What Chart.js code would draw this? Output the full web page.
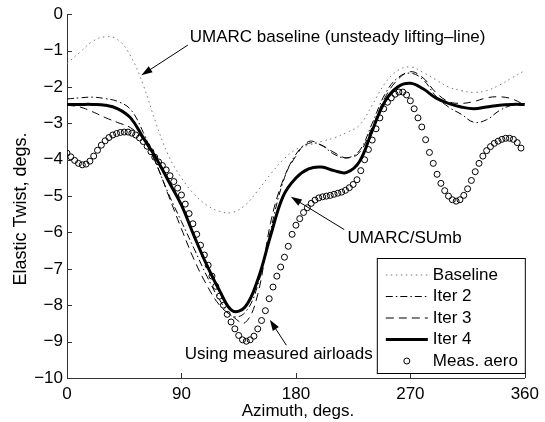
<!DOCTYPE html>
<html>
<head>
<meta charset="utf-8">
<script src="https://cdn.jsdelivr.net/npm/chart.js@4.4.1/dist/chart.umd.min.js"></script>
<style>
  html, body { margin: 0; padding: 0; background: #fff; }
  #wrap { width: 545px; height: 422px; }
</style>
</head>
<body>
<div id="wrap"><canvas id="twist"></canvas></div>
<script>
// azimuth stations of the computed solutions (deg)
const azimuth = [0, 10, 20, 30, 40, 50, 60, 70, 80, 90, 100, 110, 120, 130, 140, 150, 160, 170, 180,
    190, 200, 210, 220, 230, 240, 250, 260, 270, 280, 290, 300, 310, 320, 330, 340, 350, 360];

// elastic twist, degs.
const baseline = [-1.35, -1.05, -0.75, -0.62, -0.7, -1.15, -1.95, -3.0, -3.9, -4.5, -4.95, -5.25, -5.42,
    -5.45, -5.25, -4.85, -4.4, -4.0, -3.72, -3.6, -3.5, -3.4, -3.25, -3.05, -2.5, -1.9, -1.55, -1.45,
    -1.6, -1.8, -2.0, -2.1, -2.15, -2.1, -1.95, -1.75, -1.55];
const iter2 = [-2.33, -2.3, -2.28, -2.32, -2.4, -2.62, -3.25, -4.1, -4.95, -5.7, -6.45, -7.2, -7.85,
    -8.3, -8.2, -7.45, -5.95, -4.6, -3.85, -3.55, -3.6, -3.85, -3.95, -3.75, -3.0, -2.2, -1.75, -1.62,
    -1.8, -2.25, -2.55, -2.75, -2.97, -2.9, -2.65, -2.5, -2.45];
const iter3 = [-2.5, -2.55, -2.68, -2.84, -2.98, -3.12, -3.45, -4.1, -5.0, -5.9, -6.75, -7.45, -8.0,
    -8.3, -8.48, -7.7, -5.75, -4.55, -3.9, -3.5, -3.6, -3.8, -3.95, -3.8, -3.1, -2.3, -1.8, -1.58,
    -1.75, -2.15, -2.4, -2.45, -2.4, -2.3, -2.27, -2.33, -2.5];
const iter4 = [-2.48, -2.48, -2.48, -2.5, -2.6, -2.85, -3.4, -3.95, -4.6, -5.25, -6.1, -6.9, -7.6,
    -8.15, -8.05, -7.3, -6.1, -5.0, -4.5, -4.25, -4.2, -4.3, -4.35, -4.05, -3.2, -2.4, -2.0, -1.9,
    -2.05, -2.3, -2.45, -2.55, -2.6, -2.55, -2.5, -2.48, -2.48];

// measured-airload solution
const measAzimuth = [0, 3, 6, 9, 12, 15, 18, 21, 24, 27, 30, 33, 36, 39, 42, 45, 48, 51, 54, 57,
    60, 63, 66, 69, 72, 75, 78, 81, 84, 87, 90, 93, 96, 99, 102, 105, 108, 111, 114, 117,
    120, 123, 126, 129, 132, 135, 138, 141, 144, 147, 150, 153, 156, 159, 162, 165, 168, 171, 174, 177,
    180, 183, 186, 189, 192, 195, 198, 201, 204, 207, 210, 213, 216, 219, 222, 225, 228, 231, 234, 237,
    240, 243, 246, 249, 252, 255, 258, 261, 264, 267, 270, 273, 276, 279, 282, 285, 288, 291, 294, 297,
    300, 303, 306, 309, 312, 315, 318, 321, 324, 327, 330, 333, 336, 339, 342, 345, 348, 351, 354, 357];
const measAero = [-3.82, -3.92, -4.02, -4.1, -4.14, -4.12, -4.04, -3.9, -3.74, -3.6,
    -3.48, -3.39, -3.32, -3.28, -3.25, -3.24, -3.24, -3.27, -3.32, -3.4,
    -3.5, -3.63, -3.78, -3.93, -4.06, -4.16, -4.28, -4.44, -4.6, -4.78,
    -4.97, -5.22, -5.48, -5.76, -6.05, -6.35, -6.62, -6.9, -7.2, -7.48,
    -7.75, -8.0, -8.25, -8.46, -8.65, -8.83, -8.95, -8.99, -8.95, -8.85,
    -8.65, -8.42, -8.15, -7.82, -7.5, -7.2, -6.95, -6.68, -6.38, -6.05,
    -5.8, -5.62, -5.45, -5.32, -5.2, -5.11, -5.05, -5.02, -5.0, -4.98,
    -4.95, -4.92, -4.89, -4.84, -4.77, -4.68, -4.55, -4.3, -4.0, -3.72,
    -3.46, -3.15, -2.85, -2.6, -2.42, -2.3, -2.2, -2.14, -2.14, -2.22,
    -2.38, -2.6, -2.85, -3.1, -3.45, -3.8, -4.1, -4.4, -4.65, -4.85,
    -5.0, -5.1, -5.14, -5.1, -4.98, -4.8, -4.57, -4.33, -4.1, -3.9,
    -3.75, -3.64, -3.55, -3.49, -3.44, -3.41, -3.41, -3.44, -3.53, -3.68];

const xTicks = [0, 90, 180, 270, 360];
const yTicks = [0, -1, -2, -3, -4, -5, -6, -7, -8, -9, -10];

// callouts, placed in data units (azimuth, twist)
const notes = [
    { text: "UMARC baseline (unsteady lifting\u2013line)", at: [96.5, -0.63], tail: [95, -0.85], head: [58.5, -1.68] },
    { text: "UMARC/SUmb", at: [220.5, -6.15], tail: [218, -5.92], head: [176, -5.02] },
    { text: "Using measured airloads", at: [92.5, -9.36], tail: [172.5, -9.1], head: [159.5, -8.4] }
];

const FONT = "'Liberation Sans', Arial, Helvetica, sans-serif";

function toXY(d) {
    return d.map(function (v, i) { return { x: this[i], y: v }; }, this);
}

function arrow(ctx, x0, y0, x1, y1) {
    const a = Math.atan2(y1 - y0, x1 - x0);
    const len = 11, w = 3.6;
    ctx.beginPath();
    ctx.moveTo(x0, y0);
    ctx.lineTo(x1 - Math.cos(a) * len * 0.8, y1 - Math.sin(a) * len * 0.8);
    ctx.stroke();
    ctx.beginPath();
    ctx.moveTo(x1, y1);
    ctx.lineTo(x1 - Math.cos(a) * len - Math.sin(a) * w, y1 - Math.sin(a) * len + Math.cos(a) * w);
    ctx.lineTo(x1 - Math.cos(a) * len + Math.sin(a) * w, y1 - Math.sin(a) * len - Math.cos(a) * w);
    ctx.closePath();
    ctx.fill();
}

const extras = {
    id: "extras",
    afterDraw(chart) {
        const ctx = chart.ctx;
        const xs = chart.scales.x, ys = chart.scales.y;
        const area = chart.chartArea;
        ctx.save();

        // inward tick marks
        ctx.strokeStyle = "#333";
        ctx.lineWidth = 1;
        ctx.beginPath();
        xTicks.forEach(function (t) {
            const px = Math.round(xs.getPixelForValue(t)) + 0.5;
            ctx.moveTo(px, area.bottom);
            ctx.lineTo(px, area.bottom - 5);
        });
        yTicks.forEach(function (t) {
            const py = Math.round(ys.getPixelForValue(t)) + 0.5;
            ctx.moveTo(area.left, py);
            ctx.lineTo(area.left + 5, py);
        });
        ctx.stroke();

        // axis titles
        ctx.fillStyle = "#000";
        ctx.font = "17px " + FONT;
        ctx.textAlign = "center";
        ctx.textBaseline = "middle";
        ctx.fillText("Azimuth, degs.", 298, 411);
        ctx.save();
        ctx.translate(21, 209);
        ctx.rotate(-Math.PI / 2);
        ctx.font = "18px " + FONT;
        ctx.fillText("Elastic Twist, degs.", 0, 0);
        ctx.restore();

        // callouts
        ctx.textAlign = "left";
        ctx.lineWidth = 1;
        ctx.strokeStyle = "#000";
        notes.forEach(function (n) {
            ctx.fillText(n.text, xs.getPixelForValue(n.at[0]), ys.getPixelForValue(n.at[1]));
            arrow(ctx, xs.getPixelForValue(n.tail[0]), ys.getPixelForValue(n.tail[1]),
                xs.getPixelForValue(n.head[0]), ys.getPixelForValue(n.head[1]));
        });

        // legend box
        const bw = 148, bh = 115;
        const bx = area.right - bw, by = area.bottom - 5 - bh;
        ctx.fillStyle = "#fff";
        ctx.fillRect(bx, by, bw, bh);
        ctx.strokeStyle = "#000";
        ctx.lineWidth = 1;
        ctx.strokeRect(bx + 0.5, by + 0.5, bw, bh);
        chart.data.datasets.forEach(function (ds, i) {
            const ry = by + 17 + i * 21.5;
            ctx.save();
            if (ds.showLine === false) {
                ctx.beginPath();
                ctx.arc(bx + 30, ry, ds.pointRadius, 0, Math.PI * 2);
                ctx.strokeStyle = ds.borderColor;
                ctx.lineWidth = ds.pointBorderWidth;
                ctx.stroke();
            } else {
                ctx.beginPath();
                ctx.setLineDash(ds.borderDash || []);
                ctx.strokeStyle = ds.borderColor;
                ctx.lineWidth = ds.borderWidth;
                ctx.moveTo(bx + 9, ry);
                ctx.lineTo(bx + 51, ry);
                ctx.stroke();
            }
            ctx.restore();
            ctx.fillStyle = "#000";
            ctx.font = "17px " + FONT;
            ctx.textAlign = "left";
            ctx.textBaseline = "middle";
            ctx.fillText(ds.label, bx + 56, ry);
        });
        ctx.restore();
    }
};

new Chart(document.getElementById("twist"), {
    type: "line",
    data: {
        datasets: [
            { label: "Baseline", data: toXY.call(azimuth, baseline), borderColor: "#777", borderWidth: 1,
              borderDash: [1.5, 3.5], tension: 0.4, pointRadius: 0, fill: false },
            { label: "Iter 2", data: toXY.call(azimuth, iter2), borderColor: "#000", borderWidth: 1,
              borderDash: [7, 3, 1.5, 3], tension: 0.4, pointRadius: 0, fill: false },
            { label: "Iter 3", data: toXY.call(azimuth, iter3), borderColor: "#000", borderWidth: 1,
              borderDash: [8, 5], tension: 0.4, pointRadius: 0, fill: false },
            { label: "Iter 4", data: toXY.call(azimuth, iter4), borderColor: "#000", borderWidth: 3,
              tension: 0.4, pointRadius: 0, fill: false },
            { label: "Meas. aero", data: toXY.call(measAzimuth, measAero), showLine: false,
              borderColor: "#000", backgroundColor: "rgba(0,0,0,0)", pointRadius: 3,
              pointBorderWidth: 1, pointStyle: "circle" }
        ]
    },
    options: {
        responsive: true,
        maintainAspectRatio: false,
        animation: false,
        devicePixelRatio: 1,
        layout: { padding: { top: 14, right: 18, left: 0, bottom: 0 } },
        plugins: { legend: { display: false }, tooltip: { enabled: false } },
        scales: {
            x: {
                type: "linear",
                min: 0,
                max: 360,
                afterFit: function (s) { s.height = 44; },
                afterBuildTicks: function (s) { s.ticks = xTicks.map(function (v) { return { value: v }; }); },
                grid: { display: false, drawTicks: false },
                border: { display: true, color: "#333", width: 1 },
                ticks: { color: "#000", padding: 6, maxRotation: 0, font: { size: 17, family: FONT } }
            },
            y: {
                type: "linear",
                min: -10,
                max: 0,
                afterFit: function (s) { s.width = 67; },
                afterBuildTicks: function (s) { s.ticks = yTicks.map(function (v) { return { value: v }; }); },
                grid: { display: false, drawTicks: false },
                border: { display: true, color: "#333", width: 1 },
                ticks: {
                    color: "#000", padding: 4, font: { size: 17, family: FONT },
                    callback: function (v) { return v === 0 ? "0" : "\u2212" + Math.abs(v); }
                }
            }
        }
    },
    plugins: [extras]
});
</script>
</body>
</html>
